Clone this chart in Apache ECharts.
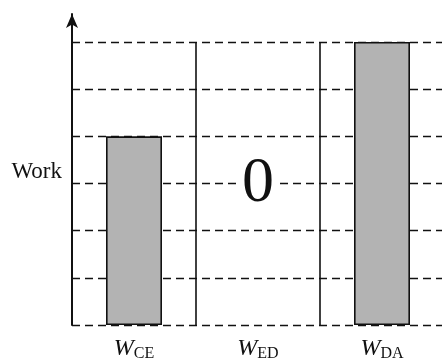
<!DOCTYPE html>
<html>
<head>
<meta charset="utf-8">
<script src="https://cdn.jsdelivr.net/npm/echarts@6/dist/echarts.min.js"></script>
<style>
  html, body { margin: 0; padding: 0; background: #fff; }
  #chart { width: 442px; height: 362px; }
</style>
</head>
<body>
<div id="chart"></div>
<script>
// Work done in each process step
const categories = ['CE', 'ED', 'DA'];
const work = [4, 0, 6];
const gridTicks = [0, 1, 2, 3, 4, 5, 6];

const chart = echarts.init(document.getElementById('chart'), null, { renderer: 'canvas' });
const serif = '"Liberation Serif", "DejaVu Serif", serif';
const ink = '#111';

chart.setOption({
  animation: false,
  grid: [
    { left: 72, right: -2, top: 42, bottom: 37, outerBoundsMode: 'none', containLabel: false },
    { left: 72, right: -2, top: 14, bottom: 37, outerBoundsMode: 'none', containLabel: false }
  ],
  xAxis: [
    {
      type: 'category',
      gridIndex: 0,
      data: categories,
      axisLine: { show: false },
      axisTick: { show: false },
      splitLine: { show: true, lineStyle: { color: ink, width: 1.6, type: 'solid' } },
      axisLabel: {
        margin: 10,
        formatter: v => '{w|W}{s|' + v + '}',
        rich: {
          w: { fontFamily: serif, fontStyle: 'italic', fontSize: 24, color: ink },
          s: { fontFamily: serif, fontSize: 16, color: ink, padding: [11, 0, 0, 0] }
        }
      }
    },
    { type: 'category', gridIndex: 1, data: categories, show: false }
  ],
  yAxis: [
    {
      type: 'value',
      gridIndex: 0,
      min: gridTicks[0],
      max: gridTicks[gridTicks.length - 1],
      interval: 1,
      name: 'Work',
      nameLocation: 'middle',
      nameRotate: 0,
      nameGap: 10,
      nameTextStyle: {
        fontFamily: serif, fontSize: 23, lineHeight: 23, color: ink,
        verticalAlign: 'bottom'
      },
      axisLine: { show: false },
      axisTick: { show: false },
      axisLabel: { show: false },
      splitLine: { show: true, lineStyle: { color: ink, width: 1.4, type: [8, 5] } }
    },
    {
      type: 'value',
      gridIndex: 1,
      min: 0,
      max: 1,
      axisLine: {
        show: true,
        symbol: ['none', 'arrow'],
        symbolSize: [9, 14],
        lineStyle: { color: ink, width: 2 }
      },
      axisTick: { show: false },
      axisLabel: { show: false },
      splitLine: { show: false }
    }
  ],
  series: [
    {
      type: 'bar',
      xAxisIndex: 0,
      yAxisIndex: 0,
      data: work.map(v => ({
        value: v,
        itemStyle: v === 0 ? { borderWidth: 0, color: 'transparent' } : undefined
      })),
      barWidth: 56,
      itemStyle: { color: '#b3b3b3', borderColor: ink, borderWidth: 1.6 },
      label: {
        show: true,
        position: 'insideBottom',
        distance: 109,
        formatter: p => (p.value === 0 ? String(p.value) : ''),
        fontFamily: serif,
        fontSize: 64,
        lineHeight: 64,
        color: ink,
        backgroundColor: '#fff',
        padding: [0, 5]
      }
    }
  ]
});
</script>
</body>
</html>
